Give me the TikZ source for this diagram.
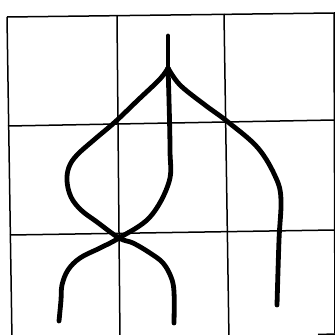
\documentclass[tikz,border=0pt]{standalone}
\begin{document}
\begin{tikzpicture}[x=1pt,y=-1pt,
  gridline/.style={line width=1.5pt,black},
  strand/.style={line width=4.8pt,black,line cap=round,line join=round}]
\useasboundingbox (0,0) rectangle (335,335);
\clip (0,0) rectangle (335,335);
% grid
\coordinate (tl) at (7,17);
\coordinate (tr) at (334,13);
\coordinate (bl) at (12,340);
\coordinate (br) at (335,334);
\draw[gridline] (tl) -- (tr) -- (br);
\draw[gridline] (tl) -- (bl);
\draw[gridline] (318,334.5) -- (br);
\draw[gridline] (117,16) -- (120,340);
\draw[gridline] (224,14) -- (229,340);
\draw[gridline] (8,126) -- (334,120);
\draw[gridline] (10,235) -- (334,230);
% strands
\coordinate (top) at (168,36);
\coordinate (J) at (168,68);
\coordinate (X) at (119,238);
\draw[strand] (top) -- (J);
\draw[strand] plot[smooth,tension=0.6] coordinates {(J) (169,100) (170,150) (169,182) (150,217) (X) (100,248) (80,258) (68,270) (62,285) (61,300) (59,321)};
\draw[strand] plot[smooth,tension=0.6] coordinates {(J) (160,79) (138,100) (115,122) (95,139) (77,155) (69,167) (67,181) (71,197) (81,210) (97,222) (X) (133,243) (150,253) (163,263) (171,277) (174,292) (174,323)};
\draw[strand] plot[smooth,tension=0.6] coordinates {(J) (180,85) (205,105) (228,122) (258,148) (276,178) (281,200) (279,240) (277,305)};
\end{tikzpicture}
\end{document}
